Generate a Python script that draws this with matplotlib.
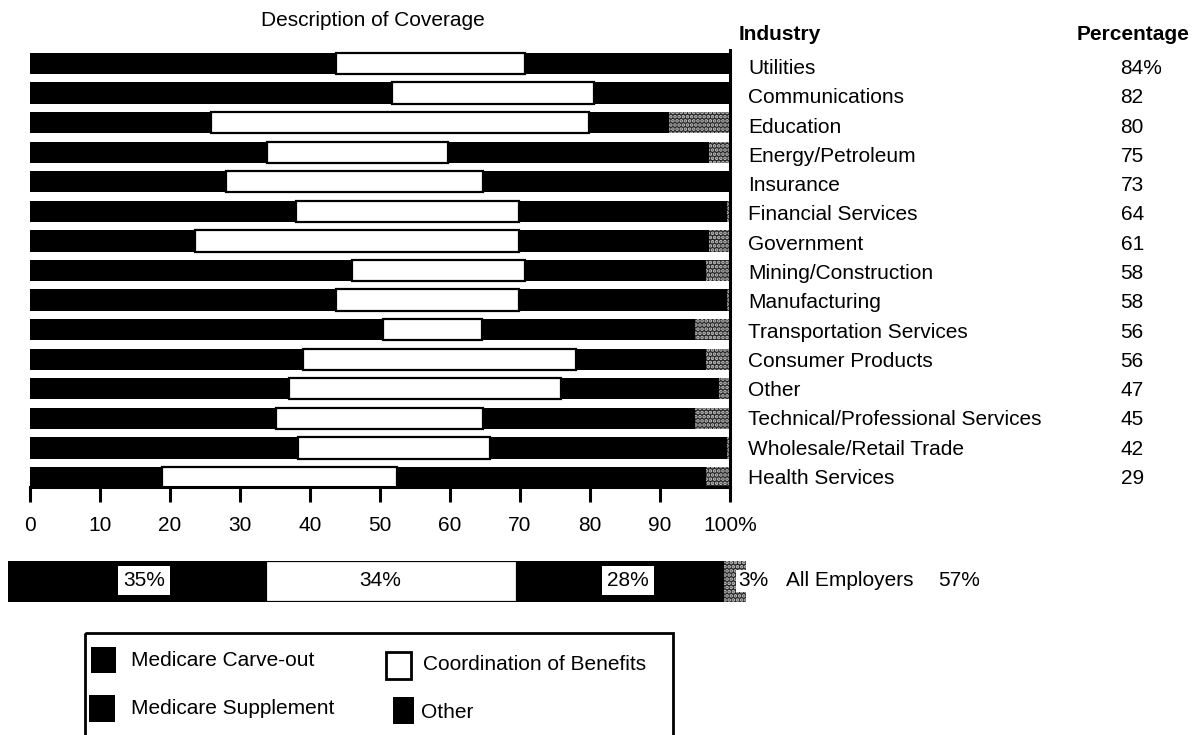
import matplotlib
matplotlib.use("Agg")
import matplotlib.pyplot as plt
from matplotlib.patches import Rectangle
import numpy as np

plt.rcParams['font.family'] = ['Liberation Sans', 'DejaVu Sans']
plt.rcParams['hatch.linewidth'] = 1.8

# Industries ordered by share of employers offering retiree coverage
industries = [
    "Utilities", "Communications", "Education", "Energy/Petroleum", "Insurance",
    "Financial Services", "Government", "Mining/Construction", "Manufacturing",
    "Transportation Services", "Consumer Products", "Other",
    "Technical/Professional Services", "Wholesale/Retail Trade", "Health Services",
]
industry_pct = [84, 82, 80, 75, 73, 64, 61, 58, 58, 56, 56, 47, 45, 42, 29]

# Description of coverage (percent of employers within each industry)
carve_out = [43.7, 51.7, 25.9, 33.8, 28.0, 38.0, 23.6, 46.0, 43.7, 50.4, 39.0, 37.0, 35.1, 38.3, 18.9]
coordination = [27.0, 28.9, 54.0, 25.9, 36.7, 31.9, 46.3, 24.7, 26.2, 14.2, 39.0, 38.9, 29.6, 27.4, 33.5]
supplement = [29.3, 19.4, 11.4, 37.3, 35.3, 29.7, 27.1, 25.9, 29.7, 30.4, 18.6, 22.5, 30.3, 33.9, 44.2]
other = [0.0, 0.0, 8.7, 3.0, 0.0, 0.4, 3.0, 3.4, 0.4, 5.0, 3.4, 1.6, 5.0, 0.4, 3.4]

# All employers combined
all_employers = [35, 34, 28, 3]
all_employers_pct = 57

series_names = ["Medicare Carve-out", "Coordination of Benefits",
                "Medicare Supplement", "Other"]
tick_values = list(range(0, 101, 10))
tick_labels = ["0", "10", "20", "30", "40", "50", "60", "70", "80", "90", "100%"]

W, H = 1195, 735
FS = 15
fig = plt.figure(figsize=(W / 100, H / 100), dpi=100)


def frame(x0, y0, x1, y1):
    """Pixel box (origin top-left) -> figure-fraction rect."""
    return [x0 / W, 1 - y1 / H, (x1 - x0) / W, (y1 - y0) / H]


def px(x, y):
    return x / W, 1 - y / H


styles = [
    dict(facecolor="black", edgecolor="black", linewidth=0),
    dict(facecolor="white", edgecolor="black", linewidth=1.6),
    dict(facecolor="black", edgecolor="black", linewidth=0),
    dict(facecolor="#262626", edgecolor="#c8c8c8", hatch="....", linewidth=0),
]

# ---- industry bars ----
ax = fig.add_axes(frame(30, 50, 730, 487))
rows = np.arange(len(industries))
left = np.zeros(len(industries))
for vals, st in zip([carve_out, coordination, supplement, other], styles):
    vals = np.asarray(vals)
    ax.barh(rows, vals, left=left, height=0.72, **st)
    left += vals

ax.set_xlim(0, 100)
ax.set_ylim(14.32, -0.457)
ax.set_yticks([])
ax.set_xticks(tick_values)
ax.set_xticklabels(tick_labels)
ax.tick_params(axis="x", direction="out", length=11, width=2.2, pad=10,
               labelsize=FS)
ax.get_xticklabels()[0].set_x(-1.0)
for s in ("top", "left"):
    ax.spines[s].set_visible(False)
ax.spines["bottom"].set_linewidth(2.2)
ax.spines["right"].set_linewidth(2.2)

for i, (name, pct) in enumerate(zip(industries, industry_pct)):
    ty = i + 0.17 - 0.01 * i
    ax.text(102.6, ty, name, fontsize=FS, ha="left", va="center",
            clip_on=False)
    ax.text(155.8, ty, f"{pct}%" if i == 0 else f"{pct}",
            fontsize=FS, ha="left", va="center", clip_on=False)

fig.text(*px(373, 20), "Description of Coverage", fontsize=FS,
         ha="center", va="center")
fig.text(*px(739, 34), "Industry", fontsize=FS, fontweight="bold",
         ha="left", va="center")
fig.text(*px(1077, 34), "Percentage", fontsize=FS, fontweight="bold",
         ha="left", va="center")

# ---- all employers bar ----
ax2 = fig.add_axes(frame(8, 561, 746, 602))
lft = 0.0
for v, st in zip(all_employers, styles):
    ax2.barh([0], [v], left=lft, height=1.0, **st)
    lft += v
ax2.set_xlim(0, 100)
ax2.set_ylim(-0.5, 0.5)
ax2.axis("off")

starts = np.cumsum([0] + all_employers[:-1])
centers = starts + np.asarray(all_employers) / 2
label_shift = [0.9, -1.6, 1.0]
for k in range(3):
    boxed = k != 1
    ax2.text(centers[k] + label_shift[k], 0.02, f"{all_employers[k]}%",
             fontsize=FS, ha="center", va="center",
             bbox=dict(boxstyle="square,pad=0.25", facecolor="white",
                       edgecolor="none") if boxed else None)
ax2.text(starts[3] + 1.9, 0.02, f"{all_employers[3]}%", fontsize=FS,
         ha="left", va="center", clip_on=False,
         bbox=dict(boxstyle="square,pad=0.08", facecolor="white",
                   edgecolor="none"))
fig.text(*px(786, 581), "All Employers", fontsize=FS, ha="left", va="center")
fig.text(*px(938, 581), f"{all_employers_pct}%", fontsize=FS, ha="left",
         va="center")

# ---- legend ----
lg = fig.add_axes([0, 0, 1, 1])
lg.set_xlim(0, W)
lg.set_ylim(H, 0)
lg.axis("off")
lg.add_patch(Rectangle((85, 633), 588, 130, fill=False, linewidth=2,
                       edgecolor="black"))
legend_items = [
    ((91, 647, 25, 26), (131, 661), "black", 0),
    ((386, 652, 25, 27), (423, 665), "white", 2),
    ((89, 695, 26, 27), (131, 708), "black", 0),
    ((393, 697, 21, 27), (421, 712), "black", 0),
]
for name, (r, t, fc, lw) in zip(series_names, legend_items):
    lg.add_patch(Rectangle((r[0], r[1]), r[2], r[3], facecolor=fc,
                           edgecolor="black", linewidth=lw))
    lg.text(t[0], t[1], name, fontsize=FS, ha="left", va="center")

fig.savefig("out.png", dpi=100)
